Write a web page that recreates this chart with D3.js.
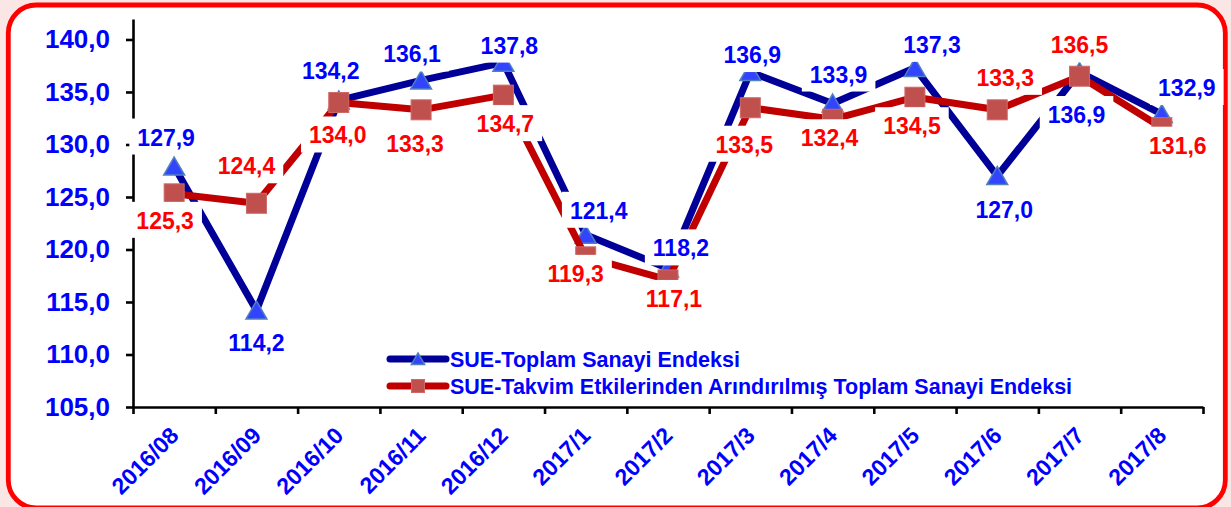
<!DOCTYPE html>
<html>
<head>
<meta charset="utf-8">
<script src="https://cdn.jsdelivr.net/npm/d3@7"></script>
<style>
	html, body { margin: 0; padding: 0; background: #fbe6e6; }
	svg { display: block; font-family: "Liberation Sans", Arial, sans-serif; }
</style>
</head>
<body>
<div id="chart"></div>
<script>
var categories = ['2016/08', '2016/09', '2016/10', '2016/11', '2016/12', '2017/1', '2017/2',
	'2017/3', '2017/4', '2017/5', '2017/6', '2017/7', '2017/8'];
var toplamValues = [127.9, 114.2, 134.2, 136.1, 137.8, 121.4, 118.2, 136.9, 133.9, 137.3, 127.0, 136.9, 132.9];
var takvimValues = [125.3, 124.4, 134.0, 133.3, 134.7, 119.3, 117.1, 133.5, 132.4, 134.5, 133.3, 136.5, 131.6];
var yTicks = [105, 110, 115, 120, 125, 130, 135, 140];
var seriesNames = ['SUE-Toplam Sanayi Endeksi', 'SUE-Takvim Etkilerinden Arındırılmış Toplam Sanayi Endeksi'];

// hand placed data labels (offset from the point: dx to centre, dy to baseline)
var toplamLabelOffsets = [[-8, -21], [0, 41], [-8, -21], [-9, -18], [6, -9], [13, -16], [13, -12],
	[2, -9], [6, -21], [17, -15], [7, 42], [-3, 51], [25, -18]];
var takvimLabelOffsets = [[-9, 35], [-10, -29], [-1, 41], [-6, 42], [2, 37], [-10, 25], [6, 27],
	[-6, 45], [-3, 27], [-3, 37], [8, -24], [0, -23], [16, 26]];

var W = 1231, H = 507;
var M = { L: 133, R: 28, T: 19, B: 100 };
var BLUE_TEXT = '#0000ff', RED_TEXT = '#ff0000';

var svg = d3.select('#chart').append('svg')
	.attr('width', W)
	.attr('height', H);

// frame
svg.append('rect')
	.attr('x', 8.3).attr('y', 5)
	.attr('width', 1217).attr('height', 503)
	.attr('rx', 28).attr('ry', 28)
	.attr('fill', '#fff')
	.attr('stroke', '#ff0000')
	.attr('stroke-width', 4.8);

var x = d3.scaleBand()
	.domain(categories)
	.range([M.L, W - M.R])
	.padding(0);
var xEdges = d3.scaleLinear()
	.domain([0, categories.length])
	.range([M.L, W - M.R]);
var y = d3.scaleLinear()
	.domain([105, 141.95])
	.range([H - M.B, M.T]);

var cx = function(d, i) { return x(categories[i]) + x.bandwidth() / 2; };
var fmt = function(v) { return v.toFixed(1).replace('.', ','); };

// axes
var yAxis = svg.append('g')
	.attr('transform', 'translate(' + M.L + ',0)')
	.call(d3.axisLeft(y)
		.tickValues(yTicks)
		.tickFormat(fmt)
		.tickSize(7)
		.tickSizeOuter(0)
		.tickPadding(16));
yAxis.selectAll('text')
	.attr('fill', BLUE_TEXT)
	.style('font-size', '26px')
	.style('font-weight', 'bold');

var xAxis = svg.append('g')
	.attr('transform', 'translate(0,' + (H - M.B) + ')')
	.call(d3.axisBottom(xEdges)
		.tickValues(d3.range(categories.length + 1))
		.tickFormat('')
		.tickSize(7)
		.tickSizeOuter(0));

svg.selectAll('.domain, .tick line')
	.attr('stroke', '#000')
	.attr('stroke-width', 2.6);

xAxis.selectAll('.cat-label')
	.data(categories)
	.enter().append('text')
	.attr('class', 'cat-label')
	.attr('text-anchor', 'end')
	.attr('transform', (d, i) => 'translate(' + (cx(d, i) + 6) + ',30) rotate(-45)')
	.attr('fill', BLUE_TEXT)
	.style('font-size', '23px')
	.style('font-weight', 'bold')
	.text(d => d);

// lines and markers
var line = d3.line()
	.x(cx)
	.y(d => y(d));

function triangle(sel, size) {
	sel.attr('d', 'M0,' + (-size * 0.5) + 'L' + (size * 0.55) + ',' + (size * 0.45) +
		'L' + (-size * 0.55) + ',' + (size * 0.45) + 'Z')
		.attr('fill', '#3344ff')
		.attr('stroke', '#4f81bd')
		.attr('stroke-width', 1.5);
}

function square(sel, size) {
	sel.attr('x', -size / 2).attr('y', -size / 2)
		.attr('width', size).attr('height', size)
		.attr('fill', '#c0504d')
		.attr('stroke', '#cd6a67')
		.attr('stroke-width', 1);
}

svg.append('path')
	.datum(toplamValues)
	.attr('d', line)
	.attr('fill', 'none')
	.attr('stroke', '#000099')
	.attr('stroke-width', 7)
	.attr('stroke-linejoin', 'round');

svg.selectAll('.tri')
	.data(toplamValues)
	.enter().append('path')
	.attr('class', 'tri')
	.attr('transform', (d, i) => 'translate(' + cx(d, i) + ',' + y(d) + ')')
	.call(triangle, 19);

svg.append('path')
	.datum(takvimValues)
	.attr('d', line)
	.attr('fill', 'none')
	.attr('stroke', '#c00000')
	.attr('stroke-width', 7)
	.attr('stroke-linejoin', 'round');

svg.selectAll('.sq')
	.data(takvimValues)
	.enter().append('g')
	.attr('class', 'sq')
	.attr('transform', (d, i) => 'translate(' + cx(d, i) + ',' + y(d) + ')')
	.append('rect')
	.call(square, 20);

// data labels with white boxes
function drawLabels(values, offsets, color) {
	var g = svg.append('g');
	values.forEach(function(v, i) {
		var lx = cx(v, i) + offsets[i][0];
		var ly = y(v) + offsets[i][1];
		var box = g.append('rect').attr('fill', '#fff');
		var t = g.append('text')
			.attr('x', lx).attr('y', ly)
			.attr('text-anchor', 'middle')
			.attr('fill', color)
			.style('font-size', '23px')
			.style('font-weight', 'bold')
			.text(fmt(v));
		var w = t.node().getComputedTextLength();
		box.attr('x', lx - w / 2 - 8).attr('y', ly - 27)
			.attr('width', w + 16).attr('height', 36);
	});
}
drawLabels(toplamValues, toplamLabelOffsets, BLUE_TEXT);
drawLabels(takvimValues, takvimLabelOffsets, RED_TEXT);

// legend
var legend = svg.append('g').attr('transform', 'translate(390,359)');
var rows = legend.selectAll('g')
	.data(seriesNames)
	.enter().append('g')
	.attr('transform', (d, i) => 'translate(0,' + (i * 27) + ')');
rows.append('line')
	.attr('x1', 0).attr('x2', 56)
	.attr('stroke', (d, i) => i === 0 ? '#000099' : '#c00000')
	.attr('stroke-width', 7)
	.attr('stroke-linecap', 'round');
rows.filter((d, i) => i === 0).append('path')
	.attr('transform', 'translate(28,0)')
	.call(triangle, 12);
rows.filter((d, i) => i === 1).append('rect')
	.attr('transform', 'translate(28,0)')
	.call(square, 13);
rows.append('text')
	.attr('x', 60).attr('y', 7.5)
	.attr('fill', BLUE_TEXT)
	.style('font-size', '21.5px')
	.style('font-weight', 'bold')
	.text(d => d);
</script>
</body>
</html>
